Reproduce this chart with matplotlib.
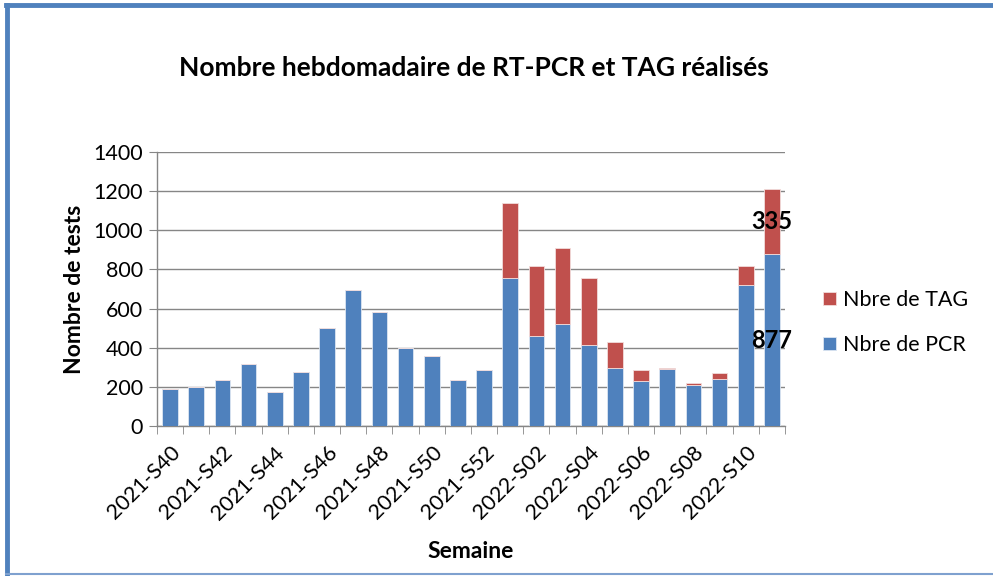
import matplotlib
matplotlib.use("Agg")
from matplotlib import pyplot as plt
from matplotlib.lines import Line2D
import numpy as np

weeks = ["2021-S40", "2021-S41", "2021-S42", "2021-S43", "2021-S44", "2021-S45",
         "2021-S46", "2021-S47", "2021-S48", "2021-S49", "2021-S50", "2021-S51",
         "2021-S52", "2022-S01", "2022-S02", "2022-S03", "2022-S04", "2022-S05",
         "2022-S06", "2022-S07", "2022-S08", "2022-S09", "2022-S10", "2022-S11"]
pcr = [187, 201, 233, 315, 172, 277, 499, 696, 580, 398, 356, 233,
       286, 757, 461, 519, 414, 296, 231, 291, 211, 238, 723, 877]
tag = [0, 0, 0, 0, 0, 0, 0, 0, 0, 0, 0, 0,
       0, 380, 359, 393, 342, 133, 55, 5, 7, 33, 97, 335]

plt.rcParams['font.family'] = ['Lato', 'DejaVu Sans']

fig = plt.figure(figsize=(9.93, 5.76), dpi=100)
ax = fig.add_axes([0.1581, 0.2604, 0.6324, 0.4757])

x = np.arange(len(weeks))
blue = '#4F81BD'
red = '#C0504D'
b1 = ax.bar(x, pcr, width=0.6, color=blue, edgecolor='#DCE6F2', linewidth=0.6,
            label='Nbre de PCR', zorder=3)
b2 = ax.bar(x, tag, width=0.6, bottom=pcr, color=red, edgecolor='#F2DCDB', linewidth=0.6,
            label='Nbre de TAG', zorder=3)

# only the last week carries data labels
lab_pcr = [''] * (len(weeks) - 1) + [str(pcr[-1])]
lab_tag = [''] * (len(weeks) - 1) + [str(tag[-1])]
ax.bar_label(b1, labels=lab_pcr, label_type='center', fontsize=17, fontweight='bold',
             padding=0, zorder=5)
ax.bar_label(b2, labels=lab_tag, label_type='center', fontsize=17, fontweight='bold',
             padding=0, zorder=5)

ax.set_xlim(-0.5, len(weeks) - 0.5)
ax.set_ylim(0, 1400)
ax.set_yticks(np.arange(0, 1401, 200))
ax.tick_params(axis='y', labelsize=15.5, length=6, color='#868686', pad=4)

ax.set_xticks(x[::2])
ax.set_xticklabels(weeks[::2], rotation=45, ha='right', rotation_mode='anchor', fontsize=15.5)
ax.set_xticks(np.arange(-0.5, len(weeks), 1), minor=True)
ax.tick_params(axis='x', which='major', length=0, pad=12)
ax.tick_params(axis='x', which='minor', length=6, color='#868686')

ax.yaxis.grid(True, color='#868686', linewidth=1, zorder=0)
ax.set_axisbelow(True)
for s in ['top', 'right']:
    ax.spines[s].set_visible(False)
for s in ['left', 'bottom']:
    ax.spines[s].set_color('#868686')
    ax.spines[s].set_linewidth(1)

ax.set_ylabel('Nombre de tests', fontsize=16.5, fontweight='bold', labelpad=6)
ax.set_xlabel('Semaine', fontsize=16.5, fontweight='bold', labelpad=13)
fig.text(0.477, 0.882, 'Nombre hebdomadaire de RT-PCR et TAG réalisés',
         ha='center', va='center', fontsize=19, fontweight='bold')

handles, labels = ax.get_legend_handles_labels()
ax.legend(handles[::-1], labels[::-1], loc='center left', bbox_to_anchor=(0.809, 0.44),
          bbox_transform=fig.transFigure, frameon=False, fontsize=15.5,
          handlelength=0.6, handleheight=0.6, handletextpad=0.35, labelspacing=1.15)

# outer frame of the chart
fig.add_artist(Line2D([0.0075, 0.0075], [0.003, 0.992], color=blue, lw=3.5,
                      transform=fig.transFigure))
fig.add_artist(Line2D([0.006, 1.0], [0.991, 0.991], color=blue, lw=3.5,
                      transform=fig.transFigure))
fig.add_artist(Line2D([0.006, 1.0], [0.004, 0.004], color='#7FA1CF', lw=1.5,
                      transform=fig.transFigure))

fig.savefig('out.png', dpi=100)
